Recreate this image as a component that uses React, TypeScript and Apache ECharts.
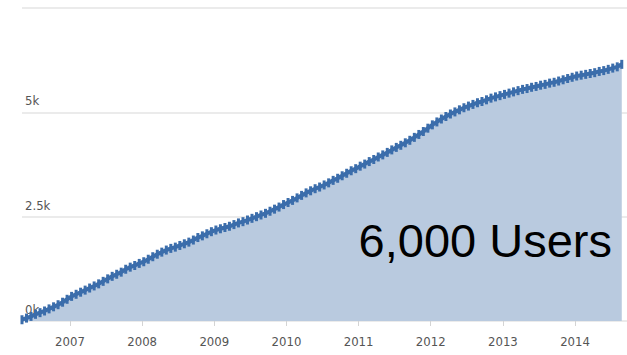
import React, { useEffect, useRef } from "react";
import * as echarts from "echarts";

const startYear = 2006.335;
const stepYears = 0.0625;
const users = [
  30, 70, 110, 160, 200, 240, 290, 340, 390, 450, 520, 590, 640, 690, 740, 790,
  840, 890, 950, 1010, 1070, 1120, 1170, 1240, 1290, 1330, 1380, 1420, 1480, 1540, 1600, 1650,
  1700, 1740, 1770, 1810, 1850, 1890, 1940, 2000, 2040, 2090, 2140, 2180, 2210, 2240, 2270, 2310,
  2350, 2380, 2420, 2460, 2500, 2540, 2580, 2630, 2680, 2730, 2790, 2840, 2890, 2950, 3010, 3070,
  3120, 3170, 3210, 3260, 3310, 3370, 3420, 3480, 3540, 3600, 3650, 3710, 3760, 3820, 3870, 3930,
  3980, 4040, 4100, 4160, 4210, 4270, 4330, 4400, 4470, 4540, 4620, 4700, 4770, 4840, 4900, 4960,
  5010, 5060, 5110, 5150, 5190, 5230, 5260, 5300, 5340, 5370, 5400, 5430, 5460, 5490, 5520, 5550,
  5570, 5600, 5620, 5650, 5670, 5700, 5720, 5750, 5780, 5810, 5840, 5870, 5890, 5910, 5930, 5950,
  5980, 6000, 6030, 6060, 6090, 6150,
];
const yearTicks = [2007, 2008, 2009, 2010, 2011, 2012, 2013, 2014];
const headline = "6,000 Users";

const narrowFont = "'Liberation Sans Narrow', 'DejaVu Sans Condensed', 'Roboto Condensed', sans-serif";

export default function App() {
  const ref = useRef<HTMLDivElement>(null);
  useEffect(() => {
    document.body.style.margin = "0";
    const chart = echarts.init(ref.current!, null, { renderer: "svg" });
    const data = users.map((v, i) => [startYear + i * stepYears, v]);
    chart.setOption({
      animation: false,
      grid: { left: 22, right: 0, top: 8, bottom: 34 },
      xAxis: {
        type: "value",
        min: 2006.335,
        max: 2014.72,
        axisLine: { show: false },
        splitLine: { show: false },
        axisTick: {
          show: true,
          customValues: yearTicks,
          length: 5,
          lineStyle: { color: "#d4d4d4", width: 1 },
        },
        axisLabel: {
          customValues: yearTicks,
          formatter: (v: number) => String(Math.round(v)),
          color: "#555",
          fontFamily: narrowFont,
          fontSize: 13,
          margin: 14,
        },
      },
      yAxis: {
        type: "value",
        min: 0,
        max: 7500,
        interval: 2500,
        axisLine: { show: false },
        axisTick: { show: false },
        splitLine: { lineStyle: { color: "#ebebeb", width: 2 } },
        axisLabel: {
          inside: true,
          margin: 3,
          formatter: (v: number) => (v >= 7500 ? "" : `${v / 1000}k`),
          verticalAlign: "bottom",
          padding: [0, 0, 5, 0],
          color: "#555",
          fontFamily: narrowFont,
          fontSize: 13,
        },
      },
      series: [
        {
          type: "line",
          data,
          showSymbol: true,
          showAllSymbol: true,
          symbol: "rect",
          symbolSize: [3, 9],
          lineStyle: { color: "#3b6dab", width: 4 },
          itemStyle: { color: "#3b6dab" },
          areaStyle: { color: "#b9cadf", opacity: 1 },
        },
      ],
      graphic: [
        {
          type: "text",
          x: 612,
          y: 240,
          z: 100,
          style: {
            text: headline,
            fill: "#000",
            fontSize: 47,
            fontFamily: "'Liberation Sans', Arial, sans-serif",
            textAlign: "right",
            textVerticalAlign: "middle",
          },
        },
      ],
    });
    return () => chart.dispose();
  }, []);
  return (
    <div
      ref={ref}
      style={{ position: "absolute", left: 0, top: 0, width: 627, height: 355 }}
    />
  );
}
